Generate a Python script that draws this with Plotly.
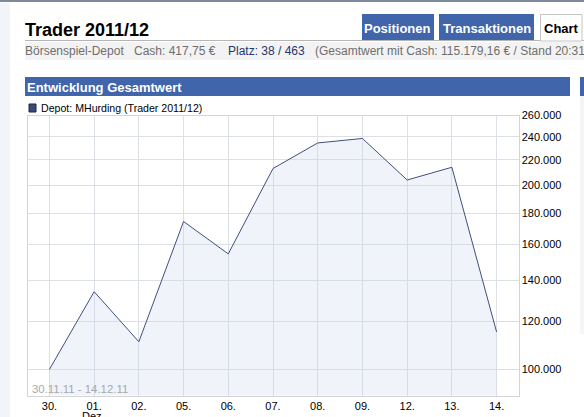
import plotly.graph_objects as go

# tage im chart (kategorien, wochenenden fehlen)
days = ["30.", "01.", "02.", "05.", "06.", "07.", "08.", "09.", "12.", "13.", "14."]
depot_values = [100000, 134000, 111000, 174500, 154500, 213000, 234500, 238500, 204000, 214000, 115179]
y_ticks = [100000, 120000, 140000, 160000, 180000, 200000, 220000, 240000, 260000]
y_labels = ["100.000", "120.000", "140.000", "160.000", "180.000", "200.000", "220.000", "240.000", "260.000"]

W = 584
H = 417
BLUE = "#4065aa"
FONT = "Liberation Sans"

fig = go.Figure()

fig.add_trace(go.Scatter(
    x=list(range(len(days))),
    y=depot_values,
    mode="lines",
    line=dict(color="#3f4f7c", width=1),
    fill="tozeroy",
    fillcolor="rgba(205,218,240,0.3)",
    showlegend=False,
    hoverinfo="skip",
))


def box(x0, y0, x1, y1, color, line=None):
    # rechteck in pixeln der seite
    fig.add_shape(
        type="rect", xref="paper", yref="paper", layer="below",
        x0=x0 / W, x1=x1 / W, y0=1 - y0 / H, y1=1 - y1 / H,
        fillcolor=color, line=dict(color=line or color, width=1 if line else 0),
    )


def label(x, y, text, size=12, color="#000000", anchor="left", bold=False):
    fig.add_annotation(
        xref="paper", yref="paper", x=x / W, y=1 - y / H, text=f"<b>{text}</b>" if bold else text,
        showarrow=False, xanchor=anchor, yanchor="middle", align=anchor,
        font=dict(family=FONT, size=size, color=color),
    )


# seitenrahmen
box(0, 0, 584, 417, "#ffffff")
box(0, 3, 10, 417, "#f1f4f9")
box(0, 0, 584, 2, "#7e8a99")
box(25, 42, 584, 60, "#f3f3f3")
box(25, 40, 584, 41, "#b5b5b5")

# reiter
box(362, 14, 434, 40, BLUE)
box(439, 14, 534, 40, BLUE)
box(540.5, 14.5, 582, 41, "#ffffff", "#c4c4c4")
label(397.5, 28, "Positionen", 13, "#ffffff", "center", True)
label(486.5, 28, "Transaktionen", 13, "#ffffff", "center", True)
label(561, 28.5, "Chart", 13, "#000000", "center", True)

# titel und infozeile
label(23, 30, "Trader 2011/12", 18, "#000000", bold=True)
label(23, 51, "Börsenspiel-Depot", 12, "#6e6e6e")
label(131.5, 51, "Cash: 417,75 €", 12, "#6e6e6e")
label(226, 51, "Platz: 38 / 463", 12, "#25356f")
label(313, 51, "(Gesamtwert mit Cash: 115.179,16 € / Stand 20:31", 12, "#6e6e6e")

# kopf vom chartblock
box(25, 77, 570, 96, BLUE)
box(580, 77, 584, 96, BLUE)
box(580, 96, 584, 334, "#f5f5f5")
label(25, 87, "Entwicklung Gesamtwert", 13, "#ffffff", bold=True)

# legende
box(29, 104, 36, 112, "#3a4a78", "#20253d")
label(39, 108, "Depot: MHurding (Trader 2011/12)", 10.6, "#000000")
label(30, 389, "30.11.11 - 14.12.11", 11.4, "#a8a8a8")

# monat unter dem 01., unten vom fenster angeschnitten wie im original
label(93.5, 416, "Dez.", 11, "#000000", "center")

fig.update_layout(
    width=W,
    height=H,
    margin=dict(l=0, r=0, t=0, b=0, autoexpand=False),
    paper_bgcolor="#ffffff",
    plot_bgcolor="rgba(0,0,0,0)",
    font=dict(family=FONT, size=11, color="#000000"),
    xaxis=dict(
        domain=[27.5 / W, 518.5 / W],
        range=[-0.49, 10.49],
        tickmode="array",
        tickvals=list(range(len(days))),
        ticktext=days,
        showgrid=True,
        gridcolor="#dcdfe6",
        gridwidth=1,
        ticks="",
        showline=True,
        linecolor="#d4d4d4",
        mirror=True,
        zeroline=False,
        tickfont=dict(family=FONT, size=11),
        ticklabelstandoff=0,
    ),
    yaxis=dict(
        type="log",
        domain=[1 - 395.5 / H, 1 - 115.5 / H],
        range=[4.9575, 5.415],
        side="right",
        tickmode="array",
        tickvals=y_ticks,
        ticktext=y_labels,
        showgrid=True,
        gridcolor="#dcdfe6",
        gridwidth=1,
        ticks="",
        showline=True,
        linecolor="#d4d4d4",
        mirror=True,
        zeroline=False,
        tickfont=dict(family=FONT, size=11),
    ),
)

fig.write_html(
    "out.html",
    config={"displayModeBar": False},
    post_script="document.body.style.margin='0';document.body.style.overflow='hidden';",
)
